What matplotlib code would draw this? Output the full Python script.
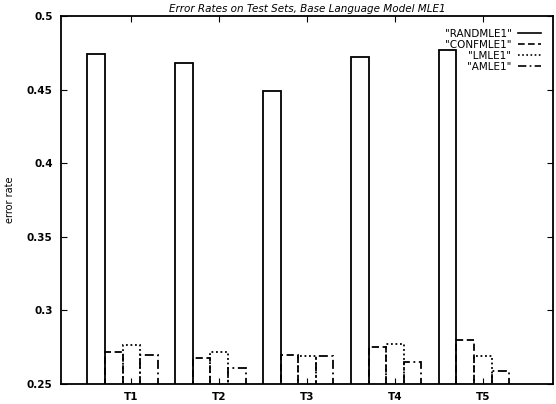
import numpy as np
import matplotlib
matplotlib.use('Agg')
import matplotlib.pyplot as plt
from matplotlib.lines import Line2D

groups = ['T1', 'T2', 'T3', 'T4', 'T5']
series = ['"RANDMLE1"', '"CONFMLE1"', '"LMLE1"', '"AMLE1"']
randmle = [0.474, 0.468, 0.449, 0.472, 0.477]
confmle = [0.272, 0.268, 0.270, 0.275, 0.280]
lmmle = [0.2765, 0.272, 0.269, 0.277, 0.269]
amle = [0.270, 0.261, 0.269, 0.265, 0.259]

values = [randmle, confmle, lmmle, amle]
styles = ['-', (0, (4, 2)), (0, (1, 1.5)), (0, (5, 2, 1, 2))]

fig = plt.figure(figsize=(5.56, 4.04), dpi=100)
ax = fig.add_axes([0.1097, 0.0495, 0.885, 0.9105])

x = np.arange(1, len(groups) + 1)
w = 0.2
offsets = [-2, -1, 0, 1]
for vals, ls, off in zip(values, styles, offsets):
    ax.bar(x + off * w, vals, width=w, bottom=0, fill=False,
           edgecolor='black', linewidth=1.3, linestyle=ls, align='center')

ax.set_ylim(0.25, 0.5)
ax.set_xlim(0.2, 5.8)
ax.set_yticks([0.25, 0.3, 0.35, 0.4, 0.45, 0.5])
ax.set_yticklabels(['0.25', '0.3', '0.35', '0.4', '0.45', '0.5'])
ax.set_xticks(x)
ax.set_xticklabels(groups)
ax.tick_params(axis='both', direction='in', labelsize=7.5, length=4,
               top=True, right=True, pad=6)
for lab in ax.get_xticklabels() + ax.get_yticklabels():
    lab.set_fontweight('bold')
for sp in ax.spines.values():
    sp.set_linewidth(1.3)

ax.set_ylabel('error rate', fontsize=7)
ax.yaxis.set_label_coords(-0.093, 0.5)
ax.set_title('Error Rates on Test Sets, Base Language Model MLE1',
             fontsize=7.5, style='italic', pad=3)

handles = [Line2D([0], [0], color='black', linestyle=ls, linewidth=1.2)
           for ls in styles]
ax.legend(handles, series, loc='upper right', frameon=False,
          markerfirst=False, fontsize=7.5, handlelength=2.2,
          handletextpad=0.6, labelspacing=0.1, borderaxespad=0.8)

fig.savefig('out.png', dpi=100)
